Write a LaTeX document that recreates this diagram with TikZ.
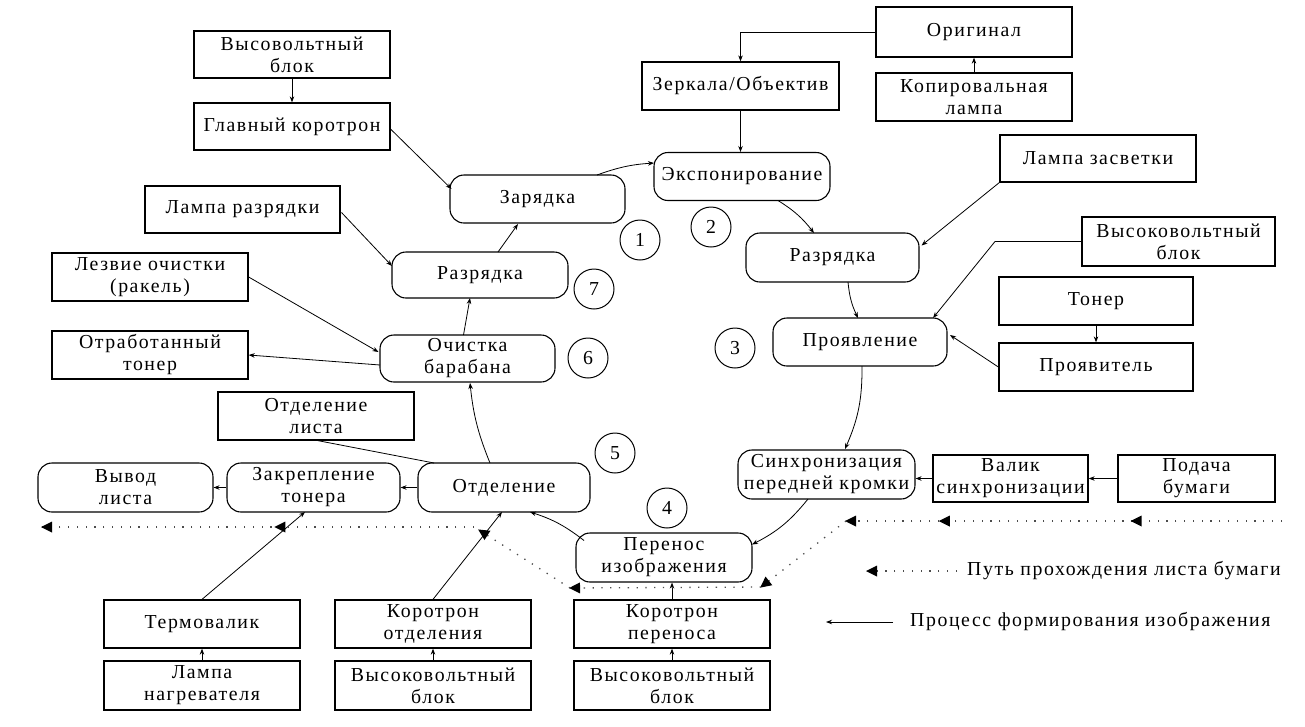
\documentclass[tikz,border=0pt]{standalone}
\usepackage{fontspec}
\setmainfont{Liberation Serif}[LetterSpace=8]
\usetikzlibrary{arrows.meta,calc,decorations.markings}
\tikzset{
  tipat/.style={postaction={decorate,decoration={markings,
     mark=at position #1 with {\fill[black] (1pt,0pt) -- (-10pt,5.5pt) -- (-10pt,-5.5pt) -- cycle;}}}}
}
\begin{document}
\begin{tikzpicture}[x=1pt,y=-1pt,
  font=\fontsize{19.8}{22}\selectfont,
  box/.style={draw, line width=1.3pt, minimum width=196pt, minimum height=48pt, align=center, inner sep=1pt},
  proc/.style={draw, line width=1.1pt, rounded corners=14pt, minimum width=175pt, minimum height=48pt, align=center, inner sep=1pt},
  num/.style={draw, circle, line width=1pt, minimum size=40pt, inner sep=0pt},
  arr/.style={-{Stealth[length=6pt,width=4.5pt]}, line width=0.8pt},
  paper/.style={line width=1.3pt, dash pattern=on 1.3pt off 7.5pt, black!70},
]
\useasboundingbox (0,0) rectangle (1305,726);

% rectangles (devices)
\node[box, minimum height=47pt] (hvb1) at (292,54.5) {Высовольтный\\блок};
\node[box, minimum height=47pt] (corot) at (292,126.5) {Главный коротрон};
\node[box, minimum width=195pt, minimum height=47pt] (lampr) at (242.5,209.5) {Лампа разрядки};
\node[box] (blade) at (150,277) {Лезвие очистки\\(ракель)};
\node[box] (waste) at (150,355) {Отработанный\\тонер};
\node[box] (sepsheet) at (316,416) {Отделение\\листа};
\node[box] (thermo) at (202,624) {Термовалик};
\node[box, minimum height=49pt] (heater) at (202,685.5) {Лампа\\нагревателя};
\node[box] (corsep) at (433,624) {Коротрон\\отделения};
\node[box, minimum height=49pt] (hvb2) at (433,685.5) {Высоковольтный\\блок};
\node[box] (cortr) at (672,624) {Коротрон\\переноса};
\node[box, minimum height=49pt] (hvb3) at (672,685.5) {Высоковольтный\\блок};
\node[box, minimum width=155pt, minimum height=47pt] (roller) at (1010.5,478.5) {Валик\\синхронизации};
\node[box, minimum width=157pt, minimum height=47pt] (feed) at (1196.5,478.5) {Подача\\бумаги};
\node[box, minimum width=193pt, minimum height=49pt] (hvb4) at (1178.5,241.5) {Высоковольтный\\блок};
\node[box, minimum width=194pt] (toner) at (1096,301) {Тонер};
\node[box, minimum width=194pt] (developer) at (1096,367) {Проявитель};
\node[box, minimum height=47pt] (lampz) at (1098,158.5) {Лампа засветки};
\node[box, minimum width=197pt] (mirror) at (740.5,86) {Зеркала/Объектив};
\node[box, minimum height=50pt] (orig) at (974,32) {Оригинал};
\node[box] (copylamp) at (974,97) {Копировальная\\лампа};

% process steps (rounded)
\node[proc] (charge) at (537.5,199) {Зарядка};
\node[proc, minimum width=176pt] (expose) at (742,176.5) {Экспонирование};
\node[proc, minimum width=173pt, minimum height=49pt] (disch2) at (832.5,257.5) {Разрядка};
\node[proc, minimum width=174pt] (develop) at (860,342) {Проявление};
\node[proc, minimum width=177pt, minimum height=49pt] (sync) at (826.5,474.5) {Синхронизация\\передней кромки};
\node[proc, minimum width=176pt, minimum height=49pt] (transfer) at (664,557.5) {Перенос\\изображения};
\node[proc, minimum width=172pt, minimum height=49pt] (sep) at (504,487.5) {Отделение};
\node[proc, minimum width=173pt, minimum height=49pt] (fix) at (313.5,487.5) {Закрепление\\тонера};
\node[proc, minimum height=49pt] (out) at (125.5,487.5) {Вывод\\листа};
\node[proc, minimum width=176pt, minimum height=46pt] (disch7) at (480,275) {Разрядка};
\node[proc, minimum height=47pt] (clean) at (467.5,358.5) {Очистка\\барабана};

% step numbers
\node[num] (n1) at (640,240) {1};
\node[num] (n2) at (711,227) {2};
\node[num] (n3) at (735,348) {3};
\node[num] (n4) at (667,508) {4};
\node[num] (n5) at (615,453) {5};
\node[num] (n6) at (588,358) {6};
\node[num] (n7) at (594,289) {7};

% process connectors
\draw[arr] (hvb1.south) -- (corot.north);
\draw[arr] ($(corot)+(98,2)$) -- ($(charge)+(-86,-10)$);
\draw[arr] ($(lampr)+(99,3)$) -- ($(disch7)+(-88,-9)$);
\draw[arr] ($(disch7)+(18,-23)$) -- ($(charge)+(-19.5,25)$);
\draw[arr] ($(charge)+(59.5,-24)$) to[bend left=8] ($(expose)+(-88,-13.5)$);
\draw[arr] (mirror.south) -- (mirror.south |- expose.north);
\draw[arr] (orig.west) -| (mirror.north);
\draw[arr] (copylamp.north) -- (orig.south);
\draw[arr] ($(expose)+(36,24)$) to[bend left=10] ($(disch2)+(-18.5,-24.5)$);
\draw[arr] ($(lampz)+(-98,23.5)$) -- ($(disch2)+(89,-12)$);
\draw[arr] ($(disch2)+(15.5,24.5)$) to[bend right=10] ($(develop)+(-2,-24)$);
\coordinate (k1) at (995,241.5);
\draw[arr] (hvb4.west) -- (k1) -- ($(develop)+(73,-24)$);
\draw[arr] (toner.south) -- (developer.north);
\draw[arr] (developer.west) -- ($(develop)+(90,-7)$);
\draw[arr] ($(develop)+(2,24)$) to[bend left=12] ($(sync)+(18.5,-25.5)$);
\draw[arr] (feed.west) -- (roller.east);
\draw[arr] (roller.west) -- (roller.west -| sync.east);
\draw[arr] ($(sync)+(-18.5,24.5)$) to[bend left=12] ($(transfer)+(88,-13)$);
\draw[arr] ($(transfer)+(-80,-17)$) to[bend right=10] ($(sep)+(26,24.5)$);
\draw[arr] (hvb3.north) -- (cortr.south);
\draw[arr] (cortr.north) -- (cortr.north |- transfer.south);
\draw[arr] (hvb2.north) -- (corsep.south);
\draw[arr] (corsep.north) -- ($(sep)+(-2,24.5)$);
\draw[arr] (heater.north) -- (thermo.south);
\draw[arr] (thermo.north) -- ($(fix)+(-8.5,24.5)$);
\draw[arr] (sep.west) -- (fix.east);
\draw[arr] (fix.west) -- (out.east);
\draw[line width=0.8pt] ($(sep)+(-70,-24.5)$) -- ($(sepsheet.south)+(2,0)$);
\draw[arr] ($(sep)+(-14,-24.5)$) to[bend left=8] ($(clean)+(2.5,24.5)$);
\draw[arr] ($(clean)+(-4,-23.5)$) -- ($(disch7)+(-10,23)$);
\draw[arr] ($(clean)+(-87.5,6.5)$) -- (waste.east);
\draw[arr] (blade.east) -- ($(clean)+(-89,-6.5)$);

% paper path
\coordinate (q0) at (1282,521);
\coordinate (q1) at (846,521);
\coordinate (q2) at (761,587);
\coordinate (q3) at (570,588);
\coordinate (q4) at (479,530);
\coordinate (q5) at (42,527);
\coordinate (q4b) at (474,527);
\draw[paper, tipat=0.345, tipat=0.785, tipat=1] (q0) -- (q1);
\draw[paper, tipat=1] (q1) -- (q2);
\draw[paper, tipat=1] (q2) -- (q3);
\draw[paper, tipat=1] (q3) -- (q4);
\draw[paper, tipat=0.46, tipat=1] (q4b) -- (q5);

% legend
\coordinate (m1) at (957,571);
\coordinate (m2) at (867,571);
\draw[paper, tipat=1] (m1) -- (m2);
\node[anchor=west, inner sep=0pt] (lg1) at (967,571) {Путь прохождения листа бумаги};
\coordinate (m3) at (893,622);
\coordinate (m4) at (826,622);
\draw[arr] (m3) -- (m4);
\node[anchor=west, inner sep=0pt] (lg2) at (910,622) {Процесс формирования изображения};
\end{tikzpicture}
\end{document}
